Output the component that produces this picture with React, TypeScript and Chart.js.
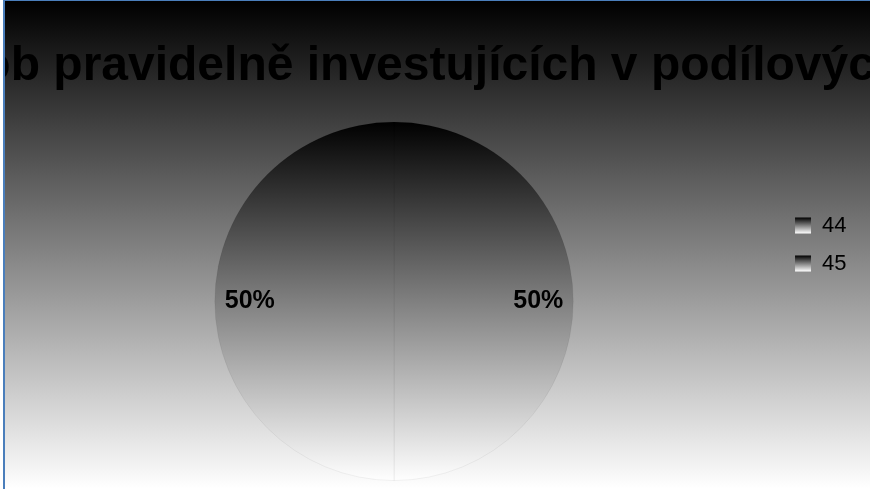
import React, { useEffect, useRef } from 'react';
import { Chart, registerables } from 'chart.js';

Chart.register(...registerables);

const TITLE = 'Počet osob pravidelně investujících v podílových fondech';
const CATEGORIES = ['44', '45'];
const SHARES = [50, 50];

const FONT = '"Liberation Sans", Arial, sans-serif';

function vGrad(ctx: CanvasRenderingContext2D, y0: number, y1: number) {
  const g = ctx.createLinearGradient(0, y0, 0, y1);
  g.addColorStop(0, '#000000');
  g.addColorStop(1, '#ffffff');
  return g;
}

const backgroundPlugin = {
  id: 'gradBackground',
  beforeDraw(chart: any) {
    const { ctx, width, height } = chart;
    ctx.save();
    ctx.fillStyle = vGrad(ctx, 0, height);
    ctx.fillRect(0, 0, width, height);
    ctx.restore();
    const lg = chart.legend;
    if (lg && lg.legendHitBoxes && lg.legendItems) {
      const fs = 22;
      const bh = 16;
      lg.legendItems.forEach((it: any, i: number) => {
        const hb = lg.legendHitBoxes[i];
        if (!hb) return;
        const top = hb.top + Math.max((fs - bh) / 2, 0);
        it.fillStyle = vGrad(ctx, top, top + bh);
      });
    }
  },
};

const titlePlugin = {
  id: 'wideTitle',
  afterDraw(chart: any) {
    const tb = chart.titleBlock;
    if (!tb) return;
    const { ctx } = chart;
    ctx.save();
    ctx.font = `bold 48px ${FONT}`;
    ctx.fillStyle = '#000000';
    ctx.textAlign = 'center';
    ctx.textBaseline = 'middle';
    ctx.fillText(TITLE, (tb.left + tb.right) / 2 + 10, tb.top + 30 + 28.8);
    ctx.restore();
  },
};

const percentPlugin = {
  id: 'percentLabels',
  afterDatasetsDraw(chart: any) {
    const { ctx } = chart;
    const meta = chart.getDatasetMeta(0);
    const total = SHARES.reduce((a, b) => a + b, 0);
    ctx.save();
    ctx.font = `bold 25px ${FONT}`;
    ctx.fillStyle = '#000000';
    ctx.textAlign = 'center';
    ctx.textBaseline = 'middle';
    meta.data.forEach((arc: any, i: number) => {
      const { x, y, startAngle, endAngle, outerRadius } = arc.getProps(
        ['x', 'y', 'startAngle', 'endAngle', 'outerRadius'],
        true
      );
      const mid = (startAngle + endAngle) / 2;
      const r = outerRadius * 0.805;
      const txt = Math.round((SHARES[i] / total) * 100) + '%';
      ctx.fillText(txt, x + Math.cos(mid) * r, y + Math.sin(mid) * r);
    });
    ctx.restore();
  },
};

export default function App() {
  const ref = useRef<HTMLCanvasElement | null>(null);

  useEffect(() => {
    if (!ref.current) return;
    Chart.defaults.font.family = FONT;
    const chart = new Chart(ref.current, {
      type: 'pie',
      data: {
        labels: CATEGORIES,
        datasets: [
          {
            data: SHARES,
            backgroundColor: (c: any) => {
              const ca = c.chart.chartArea;
              if (!ca) return '#777777';
              const cy = (ca.top + ca.bottom) / 2;
              const r = Math.min(ca.right - ca.left, ca.bottom - ca.top) / 2;
              return vGrad(c.chart.ctx, cy - r, cy + r);
            },
            borderColor: 'rgba(0,0,0,0.05)',
            borderWidth: 1,
          },
        ],
      },
      options: {
        responsive: false,
        animation: false,
        layout: { padding: { top: 7, bottom: 8, left: 4, right: 13.5 } },
        plugins: {
          title: {
            display: true,
            text: TITLE,
            color: 'rgba(0,0,0,0)',
            font: { size: 48, weight: 'bold', lineHeight: 1.2 },
            padding: { top: 30, bottom: 26 },
          },
          legend: {
            position: 'right',
            align: 'center',
            labels: {
              boxWidth: 16,
              boxHeight: 16,
              padding: 16,
              color: '#000000',
              font: { size: 22 },
              generateLabels: (ch: any) =>
                ch.data.labels.map((l: string, i: number) => ({
                  text: String(l),
                  fillStyle: '#808080',
                  strokeStyle: 'rgba(0,0,0,0)',
                  lineWidth: 0,
                  hidden: false,
                  index: i,
                  fontColor: '#000000',
                })),
            },
          },
          tooltip: { enabled: false },
        },
      },
      plugins: [backgroundPlugin, titlePlugin, percentPlugin],
    } as any);
    return () => chart.destroy();
  }, []);

  return (
    <div style={{ position: 'fixed', left: 0, top: 0, width: 870, height: 489, background: '#ffffff', overflow: 'hidden' }}>
      <div style={{ position: 'absolute', left: 3, top: 0, width: 2, height: 489, background: '#4a7ebb' }} />
      <div style={{ position: 'absolute', left: 3, top: 0, width: 867, height: 1, background: '#4a7ebb' }} />
      <canvas
        ref={ref}
        width={865}
        height={488}
        style={{ position: 'absolute', left: 5, top: 1, width: 865, height: 488, display: 'block' }}
      />
    </div>
  );
}
